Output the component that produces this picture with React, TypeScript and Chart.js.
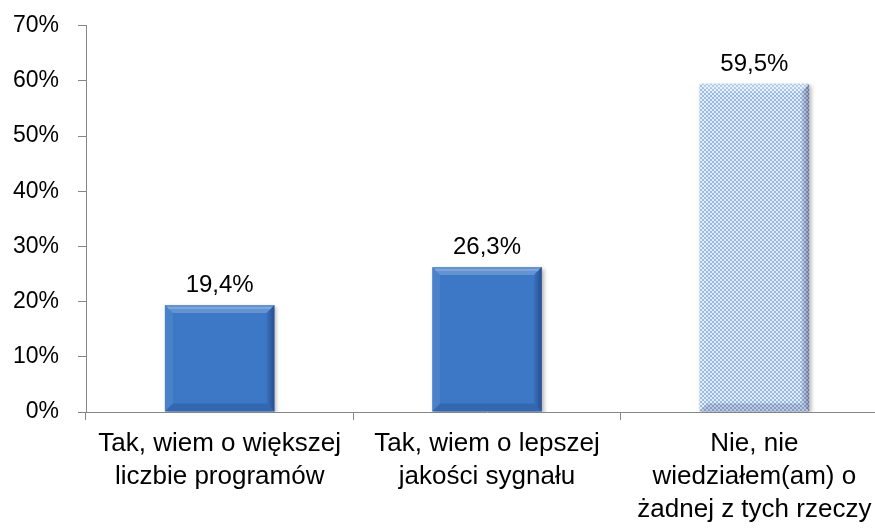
import React, { useEffect, useRef } from "react";
import { Chart, registerables } from "chart.js";

Chart.register(...registerables);

const categories: string[][] = [
  ["Tak, wiem o większej", "liczbie programów"],
  ["Tak, wiem o lepszej", "jakości sygnału"],
  ["Nie, nie", "wiedziałem(am) o", "żadnej z tych rzeczy"],
];
const values: number[] = [19.4, 26.3, 59.5];
const valueLabels: string[] = ["19,4%", "26,3%", "59,5%"];
const yMax = 70;
const yStep = 10;

const FONT = "'Liberation Sans', Arial, sans-serif";
const AXIS = "#868686";

function makePattern(ctx: CanvasRenderingContext2D) {
  const c = document.createElement("canvas");
  c.width = 4;
  c.height = 4;
  const p = c.getContext("2d")!;
  p.fillStyle = "#e2ebf7";
  p.fillRect(0, 0, 4, 4);
  p.fillStyle = "#96b8e3";
  p.fillRect(0, 0, 2, 2);
  p.fillRect(2, 2, 2, 2);
  return ctx.createPattern(c, "repeat");
}

const bevelPlugin = {
  id: "bevel",
  beforeDatasetDraw(chart: any) {
    const ctx = chart.ctx;
    ctx.shadowColor = "rgba(0,0,0,0.3)";
    ctx.shadowOffsetX = 2;
    ctx.shadowOffsetY = 2;
    ctx.shadowBlur = 4;
  },
  afterDatasetDraw(chart: any) {
    const ctx = chart.ctx;
    ctx.shadowColor = "rgba(0,0,0,0)";
    ctx.shadowBlur = 0;
    ctx.shadowOffsetX = 0;
    ctx.shadowOffsetY = 0;
  },
  afterDatasetsDraw(chart: any) {
    const ctx = chart.ctx;
    const meta = chart.getDatasetMeta(0);
    meta.data.forEach((el: any, i: number) => {
      const w = el.width;
      const l = el.x - w / 2;
      const r = el.x + w / 2;
      const t = el.y;
      const b = el.base;
      const bv = 8;
      ctx.save();
      ctx.fillStyle = "rgba(255,255,255,0.2)";
      ctx.beginPath();
      ctx.moveTo(l, t);
      ctx.lineTo(r, t);
      ctx.lineTo(r - bv, t + bv);
      ctx.lineTo(l + bv, t + bv);
      ctx.closePath();
      ctx.fill();
      ctx.fillStyle = "rgba(255,255,255,0.18)";
      ctx.fillRect(l + 3, t + 2, w - 6, 2);
      ctx.fillStyle = "rgba(255,255,255,0.07)";
      ctx.beginPath();
      ctx.moveTo(l, t);
      ctx.lineTo(l + bv, t + bv);
      ctx.lineTo(l + bv, b - bv);
      ctx.lineTo(l, b);
      ctx.closePath();
      ctx.fill();
      const gr = ctx.createLinearGradient(r - bv, 0, r, 0);
      gr.addColorStop(0, "rgba(0,0,40,0.05)");
      gr.addColorStop(1, "rgba(0,0,40,0.35)");
      ctx.fillStyle = gr;
      ctx.beginPath();
      ctx.moveTo(r, t);
      ctx.lineTo(r - bv, t + bv);
      ctx.lineTo(r - bv, b - bv);
      ctx.lineTo(r, b);
      ctx.closePath();
      ctx.fill();
      ctx.fillStyle = "rgba(0,0,40,0.14)";
      ctx.beginPath();
      ctx.moveTo(l, b);
      ctx.lineTo(l + bv, b - bv);
      ctx.lineTo(r - bv, b - bv);
      ctx.lineTo(r, b);
      ctx.closePath();
      ctx.fill();
      ctx.fillStyle = "#000";
      ctx.font = `24px ${FONT}`;
      ctx.textAlign = "center";
      ctx.textBaseline = "alphabetic";
      ctx.fillText(valueLabels[i], el.x, t - 13);
      ctx.restore();
    });
  },
};

export default function App() {
  const ref = useRef<HTMLCanvasElement | null>(null);

  useEffect(() => {
    document.body.style.margin = "0";
    document.body.style.overflow = "hidden";
    const canvas = ref.current!;
    const ctx = canvas.getContext("2d")!;
    const pattern = makePattern(ctx);

    const chart = new Chart(canvas, {
      type: "bar",
      data: {
        labels: categories,
        datasets: [
          {
            data: values,
            backgroundColor: (c: any) => {
              if (c.dataIndex === 2) return pattern as any;
              const el = c.chart.getDatasetMeta(0).data[c.dataIndex] as any;
              if (!el || !isFinite(el.y) || !isFinite(el.base)) return "#3c78c6";
              const g = c.chart.ctx.createLinearGradient(0, el.y, 0, el.base);
              g.addColorStop(0, "#4282cf");
              g.addColorStop(1, "#3970bb");
              return g;
            },
            borderWidth: 0,
            barPercentage: 0.41,
            categoryPercentage: 1,
          },
        ],
      },
      options: {
        animation: false,
        responsive: true,
        maintainAspectRatio: false,
        layout: { padding: { top: 17, left: 0, right: 0, bottom: 0 } },
        plugins: {
          legend: { display: false },
          tooltip: { enabled: false },
        },
        scales: {
          x: {
            grid: {
              display: true,
              drawOnChartArea: false,
              drawTicks: true,
              tickLength: 8,
              color: AXIS,
              offset: true,
            },
            border: { display: true, color: AXIS, width: 1 },
            ticks: {
              autoSkip: false,
              maxRotation: 0,
              minRotation: 0,
              padding: 7,
              color: "#000",
              font: { family: FONT, size: 26, lineHeight: 1.27 },
            },
            afterFit: (s: any) => {
              s.height = 117;
            },
          },
          y: {
            min: 0,
            max: yMax,
            grid: {
              display: true,
              drawOnChartArea: false,
              drawTicks: true,
              tickLength: 8,
              color: AXIS,
            },
            border: { display: true, color: AXIS, width: 1 },
            ticks: {
              stepSize: yStep,
              padding: 19,
              color: "#000",
              font: { family: FONT, size: 23 },
              callback: (v: any) => `${v}%`,
            },
            afterFit: (s: any) => {
              s.width = 86;
            },
          },
        },
      },
      plugins: [bevelPlugin],
    });
    return () => chart.destroy();
  }, []);

  return (
    <div style={{ position: "absolute", left: 0, top: -7, width: 888, height: 536 }}>
      <canvas ref={ref} />
    </div>
  );
}
